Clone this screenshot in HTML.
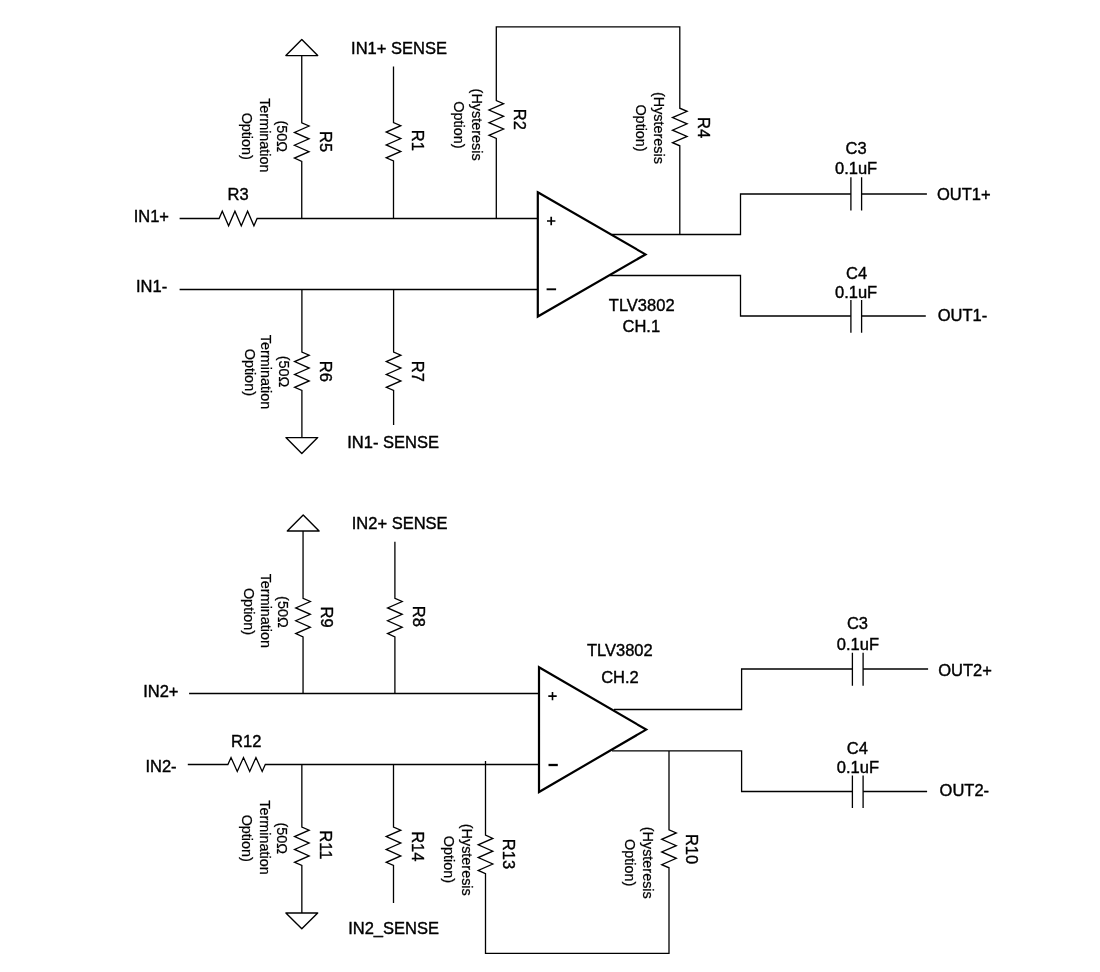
<!DOCTYPE html>
<html><head><meta charset="utf-8"><style>
html,body{margin:0;padding:0;background:#fff;}
svg{display:block;}
text{font-family:"Liberation Sans",sans-serif;fill:#000;stroke:#000;stroke-width:0.4px;}
text.a{stroke-width:0.25px;}
svg{will-change:transform;}
path{fill:none;stroke:#000;stroke-linecap:butt;}
</style></head><body>
<svg width="1100" height="972" viewBox="0 0 1100 972">
<text x="133.70" y="221.80" font-size="16.5">IN1+</text>
<path d="M179.60 218.50 L219.10 218.50 L219.10 218.50 L222.27 211.20 L228.60 225.80 L234.93 211.20 L241.27 225.80 L247.60 211.20 L253.93 225.80 L257.10 218.50 L537.80 218.50" stroke-width="1.3"/>
<text x="227.53" y="200.00" font-size="16.5">R3</text>
<path d="M285.90 55.60 L301.80 39.60 L317.70 55.60 Z" stroke-width="1.4" stroke-linejoin="round"/>
<path d="M301.75 55.60 L301.75 122.80 L309.05 126.01 L294.45 132.43 L309.05 138.84 L294.45 145.26 L309.05 151.68 L294.45 158.09 L301.75 161.30 L301.75 218.50" stroke-width="1.3"/>
<text transform="translate(320.39 131.09) rotate(90)" font-size="16.5">R5</text>
<text class="a" transform="translate(277.00 120.53) rotate(90)" font-size="14.4">(50Ω</text>
<text class="a" transform="translate(260.20 98.16) rotate(90)" font-size="14.4">Termination</text>
<text class="a" transform="translate(241.60 112.63) rotate(90)" font-size="14.4">Option)</text>
<text x="351.09" y="53.90" font-size="16.5">IN1+ SENSE</text>
<path d="M393.50 66.40 L393.50 122.50 L400.80 125.71 L386.20 132.12 L400.80 138.54 L386.20 144.96 L400.80 151.38 L386.20 157.79 L393.50 161.00 L393.50 218.50" stroke-width="1.3"/>
<text transform="translate(411.90 129.76) rotate(90)" font-size="16.5">R1</text>
<path d="M496.30 218.50 L496.30 138.50 L496.30 138.50 L489.00 135.33 L503.60 129.00 L489.00 122.67 L503.60 116.33 L489.00 110.00 L503.60 103.67 L496.30 100.50 L496.30 26.90 L679.80 26.90 L679.80 108.20 L679.80 108.20 L687.10 111.33 L672.50 117.60 L687.10 123.87 L672.50 130.13 L687.10 136.40 L672.50 142.67 L679.80 145.80 L679.80 234.50" stroke-width="1.3"/>
<text transform="translate(514.40 108.76) rotate(90)" font-size="16.5">R2</text>
<text class="a" transform="translate(472.00 88.62) rotate(90)" font-size="14.4">(Hysteresis</text>
<text class="a" transform="translate(453.80 101.28) rotate(90)" font-size="14.4">Option)</text>
<text transform="translate(698.30 117.00) rotate(90)" font-size="16.5">R4</text>
<text class="a" transform="translate(653.70 91.97) rotate(90)" font-size="14.4">(Hysteresis</text>
<text class="a" transform="translate(636.40 104.43) rotate(90)" font-size="14.4">Option)</text>
<path d="M537.80 192.30 L645.50 254.40 L537.80 316.50 Z" stroke-width="2.2" stroke-linejoin="miter"/>
<path d="M547.00 221.00 H555.40 M551.20 216.80 V225.20" stroke-width="1.7"/>
<path d="M546.60 289.30 H556.10" stroke-width="1.9"/>
<text x="608.84" y="310.90" font-size="16.5">TLV3802</text>
<text x="622.49" y="331.80" font-size="16.5">CH.1</text>
<path d="M612.00 234.50 L740.50 234.50 L740.50 194.00 L850.90 194.00" stroke-width="1.3"/>
<path d="M861.60 194.00 L926.90 194.00" stroke-width="1.3"/>
<path d="M850.90 177.30 V210.60 M861.60 177.30 V210.60" stroke-width="1.3"/>
<text x="936.99" y="199.80" font-size="16.5">OUT1+</text>
<text x="845.61" y="154.00" font-size="16.5">C3</text>
<text x="835.01" y="173.60" font-size="16.5">0.1uF</text>
<path d="M610.00 275.50 L740.50 275.50 L740.50 316.00 L850.90 316.00" stroke-width="1.3"/>
<path d="M861.60 316.00 L925.80 316.00" stroke-width="1.3"/>
<path d="M850.90 299.90 V332.70 M861.60 299.90 V332.70" stroke-width="1.3"/>
<text x="937.79" y="321.20" font-size="16.5">OUT1-</text>
<text x="845.98" y="278.70" font-size="16.5">C4</text>
<text x="835.01" y="298.30" font-size="16.5">0.1uF</text>
<text x="136.00" y="291.50" font-size="16.5">IN1-</text>
<path d="M179.60 289.50 L537.80 289.50" stroke-width="1.3"/>
<path d="M301.90 289.50 L301.90 352.00 L309.20 355.21 L294.60 361.62 L309.20 368.04 L294.60 374.46 L309.20 380.88 L294.60 387.29 L301.90 390.50 L301.90 437.60" stroke-width="1.3"/>
<path d="M285.90 437.60 L301.80 453.60 L317.70 437.60 Z" stroke-width="1.4" stroke-linejoin="round"/>
<text transform="translate(319.69 360.73) rotate(90)" font-size="16.5">R6</text>
<text class="a" transform="translate(278.60 355.73) rotate(90)" font-size="14.4">(50Ω</text>
<text class="a" transform="translate(260.60 334.76) rotate(90)" font-size="14.4">Termination</text>
<text class="a" transform="translate(244.70 348.73) rotate(90)" font-size="14.4">Option)</text>
<path d="M393.60 289.50 L393.60 352.00 L400.90 355.21 L386.30 361.62 L400.90 368.04 L386.30 374.46 L400.90 380.88 L386.30 387.29 L393.60 390.50 L393.60 425.10" stroke-width="1.3"/>
<text transform="translate(412.00 360.76) rotate(90)" font-size="16.5">R7</text>
<text x="347.25" y="448.00" font-size="16.5">IN1- SENSE</text>
<path d="M287.30 531.00 L303.20 515.00 L319.10 531.00 Z" stroke-width="1.4" stroke-linejoin="round"/>
<path d="M303.05 531.00 L303.05 598.30 L310.35 601.51 L295.75 607.92 L310.35 614.34 L295.75 620.76 L310.35 627.17 L295.75 633.59 L303.05 636.80 L303.05 693.50" stroke-width="1.3"/>
<text transform="translate(321.29 606.56) rotate(90)" font-size="16.5">R9</text>
<text class="a" transform="translate(278.00 596.12) rotate(90)" font-size="14.4">(50Ω</text>
<text class="a" transform="translate(260.80 573.66) rotate(90)" font-size="14.4">Termination</text>
<text class="a" transform="translate(244.20 587.93) rotate(90)" font-size="14.4">Option)</text>
<text x="351.79" y="529.40" font-size="16.5">IN2+ SENSE</text>
<path d="M394.90 541.70 L394.90 598.30 L402.20 601.51 L387.60 607.92 L402.20 614.34 L387.60 620.76 L402.20 627.17 L387.60 633.59 L394.90 636.80 L394.90 693.50" stroke-width="1.3"/>
<text transform="translate(413.39 605.73) rotate(90)" font-size="16.5">R8</text>
<text x="143.20" y="697.30" font-size="16.5">IN2+</text>
<path d="M189.10 693.50 L539.00 693.50" stroke-width="1.3"/>
<text x="145.40" y="771.80" font-size="16.5">IN2-</text>
<path d="M187.80 764.50 L227.90 764.50 L227.90 764.50 L231.02 757.50 L237.25 771.50 L243.48 757.50 L249.72 771.50 L255.95 757.50 L262.18 771.50 L265.30 764.50 L539.00 764.50" stroke-width="1.3"/>
<text x="231.09" y="746.90" font-size="16.5">R12</text>
<path d="M539.00 667.20 L646.20 729.60 L539.00 792.00 Z" stroke-width="2.2" stroke-linejoin="miter"/>
<path d="M548.30 696.10 H556.70 M552.50 691.90 V700.30" stroke-width="1.6"/>
<path d="M548.50 765.00 H557.80" stroke-width="2.3"/>
<text x="586.94" y="656.10" font-size="16.5">TLV3802</text>
<text x="601.19" y="682.70" font-size="16.5">CH.2</text>
<path d="M614.00 709.50 L741.60 709.50 L741.60 669.00 L852.40 669.00" stroke-width="1.3"/>
<path d="M863.10 669.00 L928.10 669.00" stroke-width="1.3"/>
<path d="M852.40 652.75 V685.85 M863.10 652.75 V685.85" stroke-width="1.3"/>
<text x="938.29" y="676.20" font-size="16.5">OUT2+</text>
<text x="846.91" y="629.10" font-size="16.5">C3</text>
<text x="836.81" y="649.50" font-size="16.5">0.1uF</text>
<path d="M612.00 750.90 L741.60 750.90 L741.60 791.50 L852.40 791.50" stroke-width="1.3"/>
<path d="M863.10 791.50 L927.10 791.50" stroke-width="1.3"/>
<path d="M852.40 775.45 V807.95 M863.10 775.45 V807.95" stroke-width="1.3"/>
<text x="939.59" y="795.80" font-size="16.5">OUT2-</text>
<text x="846.78" y="753.80" font-size="16.5">C4</text>
<text x="836.81" y="772.90" font-size="16.5">0.1uF</text>
<path d="M669.00 750.90 L669.00 829.80 L669.00 829.80 L676.30 832.97 L661.70 839.30 L676.30 845.63 L661.70 851.97 L676.30 858.30 L661.70 864.63 L669.00 867.80 L669.00 953.40 L485.50 953.40 L485.50 874.00 L485.50 873.60 L478.20 870.40 L492.80 864.00 L478.20 857.60 L492.80 851.20 L478.20 844.80 L492.80 838.40 L485.50 835.20 L485.50 761.00" stroke-width="1.3"/>
<text transform="translate(686.19 833.90) rotate(90)" font-size="16.5">R10</text>
<text class="a" transform="translate(642.90 826.77) rotate(90)" font-size="14.4">(Hysteresis</text>
<text class="a" transform="translate(624.70 839.03) rotate(90)" font-size="14.4">Option)</text>
<text transform="translate(502.79 838.86) rotate(90)" font-size="16.5">R13</text>
<text class="a" transform="translate(461.80 823.77) rotate(90)" font-size="14.4">(Hysteresis</text>
<text class="a" transform="translate(444.10 835.83) rotate(90)" font-size="14.4">Option)</text>
<path d="M301.85 764.50 L301.85 827.00 L309.15 830.21 L294.55 836.62 L309.15 843.04 L294.55 849.46 L309.15 855.88 L294.55 862.29 L301.85 865.50 L301.85 913.00" stroke-width="1.3"/>
<path d="M285.90 913.00 L301.80 928.80 L317.70 913.00 Z" stroke-width="1.4" stroke-linejoin="round"/>
<text transform="translate(319.50 830.29) rotate(90)" font-size="16.5">R11</text>
<text class="a" transform="translate(277.40 822.42) rotate(90)" font-size="14.4">(50Ω</text>
<text class="a" transform="translate(259.50 800.26) rotate(90)" font-size="14.4">Termination</text>
<text class="a" transform="translate(242.00 814.63) rotate(90)" font-size="14.4">Option)</text>
<path d="M393.50 764.50 L393.50 827.00 L400.80 830.21 L386.20 836.62 L400.80 843.04 L386.20 849.46 L400.80 855.88 L386.20 862.29 L393.50 865.50 L393.50 902.90" stroke-width="1.3"/>
<text transform="translate(412.10 831.14) rotate(90)" font-size="16.5">R14</text>
<text x="348.19" y="934.10" font-size="16.5">IN2_SENSE</text>
</svg>
</body></html>
